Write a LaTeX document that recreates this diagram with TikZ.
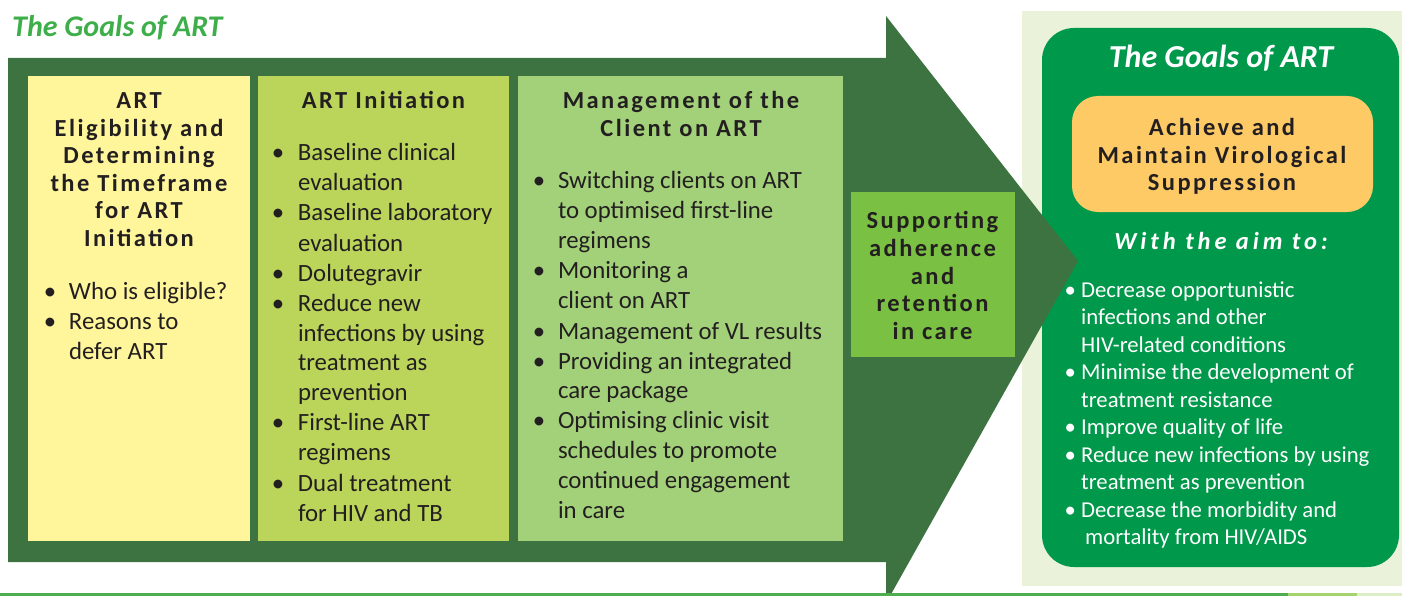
\documentclass[tikz,border=0pt]{standalone}
\usepackage{fontspec}
\setmainfont{Carlito}
\newfontfamily\trackfont[LetterSpace=10]{Carlito}
\newfontfamily\trackwide[LetterSpace=16]{Carlito}
\definecolor{titlegreen}{HTML}{3DAE49}
\definecolor{arrowgreen}{HTML}{3D7340}
\definecolor{yelbox}{HTML}{FFF59B}
\definecolor{initbox}{HTML}{BAD55A}
\definecolor{mgmtbox}{HTML}{A3D179}
\definecolor{suppbox}{HTML}{7AC143}
\definecolor{lightbg}{HTML}{EAF2DA}
\definecolor{goalgreen}{HTML}{00984A}
\definecolor{orangebox}{HTML}{FDCA66}
\definecolor{darktext}{HTML}{231F20}
\definecolor{lineA}{HTML}{4DAE4F}
\definecolor{lineB}{HTML}{A5D46F}
\definecolor{lineC}{HTML}{DDEDC5}
\newcommand\bu[1]{\leavevmode\rlap{\kern-#1\hbox to 0pt{\hss\textbullet\hss}}}
\tikzset{
  txt/.style={inner sep=0pt, outer sep=0pt, text=darktext},
  headtxt/.style={txt, font=\trackfont\bfseries\fontsize{24.5}{27.5}\selectfont},
  bodytxt/.style={txt, font=\fontsize{24.8}{30}\selectfont},
  goaltxt/.style={inner sep=0pt, text=white, font=\fontsize{22.7}{27.5}\selectfont},
}
\begin{document}
\begin{tikzpicture}[x=1pt,y=-1pt]
\useasboundingbox (0,0) rectangle (1402,596);
% right panel
\fill[lightbg] (1022,11) rectangle (1402,586);
\fill[goalgreen, rounded corners=32pt] (1042,28) rectangle (1399,567);
\fill[orangebox, rounded corners=26pt] (1072,96) rectangle (1373,212);
% big arrow
\fill[arrowgreen] (8,58) -- (886,58) -- (886,16) -- (1078,261) -- (890,596) -- (886,596) -- (886,562) -- (8,562) -- cycle;
% column boxes
\fill[yelbox] (28,76) rectangle (250,541);
\fill[initbox] (258,76) rectangle (509,541);
\fill[mgmtbox] (518,76) rectangle (843,541);
\fill[suppbox] (851,192) rectangle (1015,357);
% bottom rule
\fill[lineA] (0,593) rectangle (1288,596);
\fill[lineB] (1288,593) rectangle (1357,596);
\fill[lineC] (1357,593) rectangle (1402,596);

% title
\node[inner sep=0pt, anchor=base west, text=titlegreen, font=\bfseries\itshape\fontsize{30}{34}\selectfont] (title) at (12,37) {The Goals of ART};

% column 1
\node[headtxt, anchor=base] (h1) at (139,109) {\parbox[t]{220pt}{\centering ART\\Eligibility and\\Determining\\the Timeframe\\for ART\\Initiation}};
\node[bodytxt, anchor=base west] (l1) at (69,299) {\parbox[t]{180pt}{\raggedright
\bu{19pt}Who is eligible?\\
\bu{19pt}Reasons to\\
defer ART}};

% column 2
\node[headtxt, anchor=base] (h2) at (383.5,109) {ART Initiation};
\node[bodytxt, anchor=base west] (l2) at (298,161) {\parbox[t]{210pt}{\raggedright
\bu{20pt}Baseline clinical\\
evaluation\\
\bu{20pt}Baseline laboratory\\
evaluation\\
\bu{20pt}Dolutegravir\\
\bu{20pt}Reduce new\\
infections by using\\
treatment as\\
prevention\\
\bu{20pt}First-line ART\\
regimens\\
\bu{20pt}Dual treatment\\
for HIV and TB}};

% column 3
\node[headtxt, anchor=base] (h3) at (681,109) {\parbox[t]{310pt}{\centering Management of the\\Client on ART}};
\node[bodytxt, anchor=base west] (l3) at (558,189) {\parbox[t]{280pt}{\raggedright
\bu{19pt}Switching clients on ART\\
to optimised first-line\\
regimens\\
\bu{19pt}Monitoring a\\
client on ART\\
\bu{19pt}Management of VL results\\
\bu{19pt}Providing an integrated\\
care package\\
\bu{19pt}Optimising clinic visit\\
schedules to promote\\
continued engagement\\
in care}};

% supporting box
\node[headtxt, anchor=base] (sup) at (932.5,229) {\parbox[t]{160pt}{\centering Supporting\\adherence\\and\\retention\\in care}};

% right panel
\node[inner sep=0pt, anchor=base, text=white, font=\bfseries\itshape\fontsize{32}{36}\selectfont] (rtitle) at (1221,68) {The Goals of ART};
\node[headtxt, anchor=base] (ach) at (1222,136) {\parbox[t]{300pt}{\centering Achieve and\\Maintain Virological\\Suppression}};
\node[inner sep=0pt, anchor=base, text=white, font=\trackwide\bfseries\itshape\fontsize{24.5}{30}\selectfont] (aim) at (1221,249) {With the aim to:};
\node[goaltxt, anchor=base west] (gl) at (1081,297) {\parbox[t]{320pt}{\raggedright
\bu{11pt}Decrease opportunistic\\
infections and other\\
HIV-related conditions\\
\bu{11pt}Minimise the development of\\
treatment resistance\\
\bu{11pt}Improve quality of life\\
\bu{11pt}Reduce new infections by using\\
treatment as prevention\\
\bu{11pt}Decrease the morbidity and\\
\hspace*{4pt}mortality from HIV/AIDS}};
\end{tikzpicture}
\end{document}
